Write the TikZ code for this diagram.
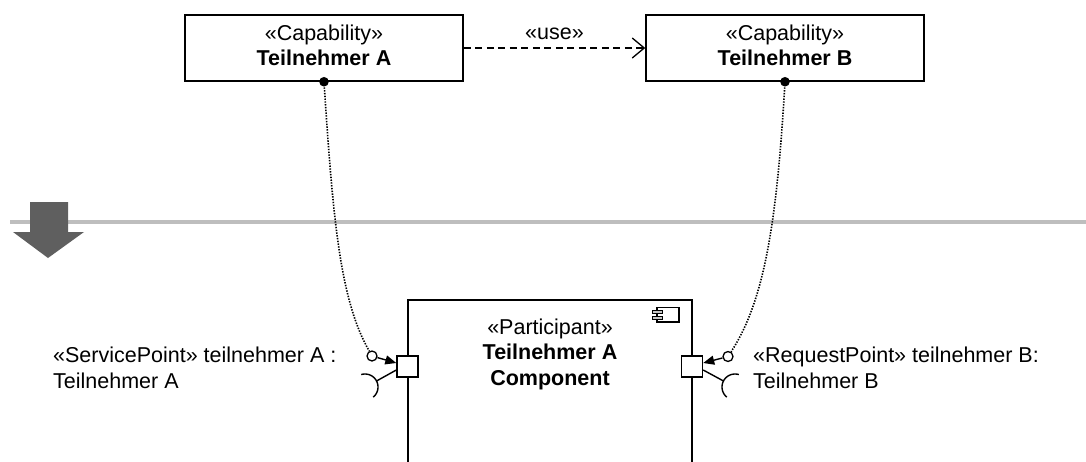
\documentclass[tikz,border=0pt]{standalone}
\usepackage{fontspec}
\setmainfont{Liberation Sans}
\usetikzlibrary{arrows.meta}
\definecolor{sepgray}{RGB}{190,190,190}
\definecolor{arrgray}{RGB}{95,95,95}
\begin{document}
\begin{tikzpicture}[x=1pt,y=-1pt,
  every node/.style={font=\fontsize{21.5}{25}\selectfont},
  capbox/.style={draw, line width=1.5pt, minimum width=278pt, minimum height=66pt, align=center, inner sep=0pt},
  port/.style={draw, line width=1.4pt, fill=white, minimum size=21pt, inner sep=0pt},
  lolli/.style={draw, line width=1.3pt, fill=white, circle, minimum size=10pt, inner sep=0pt},
  dep/.style={line width=1.6pt, dash pattern=on 1.4pt off 1.4pt},
  lbl/.style={align=left, inner sep=0pt},
  usearrow/.style={line width=1.3pt, dash pattern=on 7pt off 4.5pt, -{Straight Barb[length=12pt,width=20pt,line width=1.3pt]}},
  portarrow/.style={line width=1.4pt, -{Triangle[length=11pt,width=9pt]}},
  plain/.style={line width=1.4pt}
]
\useasboundingbox (0,0) rectangle (1086,461);
% separator and big arrow
\draw[line width=4.5pt, draw=sepgray] (10,222) -- (1086,222);
\fill[arrgray] (30,202) -- (68,202) -- (68,232) -- (84,232) -- (48,258) -- (13,232) -- (30,232) -- cycle;
% capabilities
\node[capbox] (A) at (324,48) {«Capability»\\\textbf{Teilnehmer A}\rule[-5pt]{0pt}{0pt}};
\node[capbox] (B) at (785,48) {«Capability»\\\textbf{Teilnehmer B}\rule[-5pt]{0pt}{0pt}};
\draw[usearrow] (A.east) -- (B.west) node[midway, above=8pt, inner sep=0pt] (use) {«use»};
\fill (A.south) circle[radius=4.8pt];
\fill (B.south) circle[radius=4.8pt];
% component
\draw[line width=1.5pt] (408,470) -- (408,300) -- (692,300) -- (692,470);
\node[align=center, inner sep=0pt, anchor=base, font=\fontsize{21.5}{25.5}\selectfont] (comp) at (550,385) {«Participant»\\\textbf{Teilnehmer A}\\\textbf{Component}};
% component icon
\draw[line width=1.1pt] (657,307.5) rectangle (679,322);
\draw[line width=0.9pt, fill=gray!45] (652,310) rectangle (662,313.5);
\draw[line width=0.9pt, fill=gray!45] (652,316) rectangle (662,319.5);
% ports
\node[port] (pA) at (407.5,366.5) {};
\node[port] (pB) at (692,366.5) {};
\node[lolli] (lA) at (372,356) {};
\node[lolli] (lB) at (728,356.5) {};
\coordinate (sA) at (376.5,381);
\coordinate (sB) at (723.5,381);
% dependencies
\draw[dep] (A.south) .. controls (333,220) and (340,300) .. (lA);
\draw[dep] (B.south) .. controls (777,220) and (765,300) .. (lB);
\draw[portarrow] (lA) -- ([yshift=3.5pt]pA.west);
\draw[portarrow] (lB) -- ([yshift=3.5pt]pB.east);
% sockets
\draw[plain] ([yshift=-3.5pt]pA.west) -- (sA);
\draw[plain] plot[domain=-107:51, samples=40, smooth] ({365+13*cos(\x)},{387+13*sin(\x)});
\draw[plain] ([yshift=-3.5pt]pB.east) -- (sB);
\draw[plain] plot[domain=129:287, samples=40, smooth] ({735+13*cos(\x)},{387+13*sin(\x)});
% labels
\node[lbl, anchor=base west, font=\fontsize{21.5}{26}\selectfont] (tA) at (53,388) {«ServicePoint» teilnehmer A :\\Teilnehmer A};
\node[lbl, anchor=base west, font=\fontsize{21.5}{26}\selectfont] (tB) at (753,388) {«RequestPoint» teilnehmer B:\\Teilnehmer B};
\end{tikzpicture}
\end{document}
